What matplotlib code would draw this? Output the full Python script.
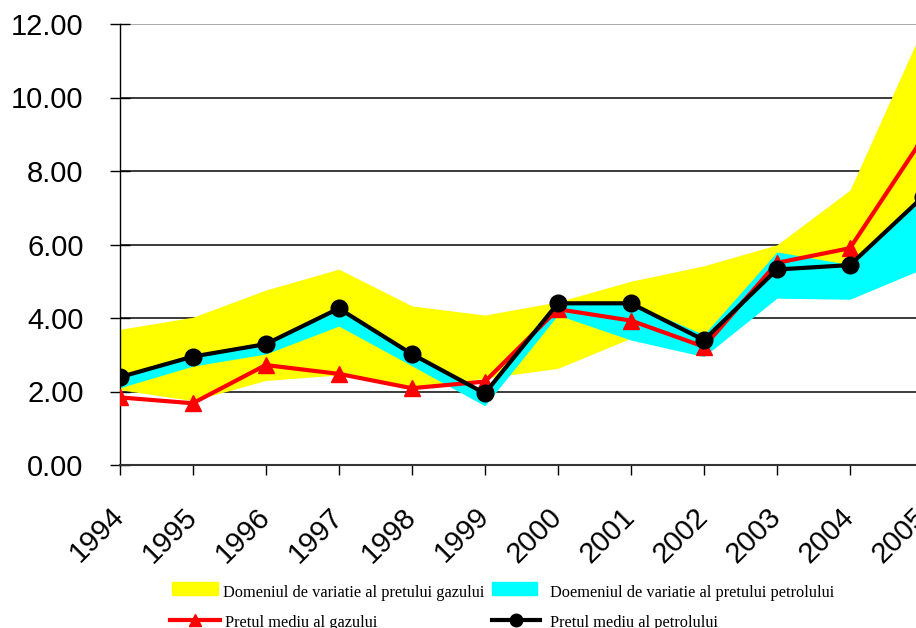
import matplotlib.pyplot as plt
from matplotlib.patches import Rectangle
from matplotlib.lines import Line2D
from matplotlib.transforms import ScaledTranslation

# years on the x axis
years = [1994, 1995, 1996, 1997, 1998, 1999, 2000, 2001, 2002, 2003, 2004, 2005]
year_labels = [str(y) for y in years]

# gas price range (yellow band)
gas_low = [2.05, 1.75, 2.30, 2.45, 2.10, 2.36, 2.63, 3.45, 3.00, 4.70, 5.00, 5.60]
gas_high = [3.69, 4.02, 4.76, 5.33, 4.33, 4.08, 4.44, 5.00, 5.42, 5.99, 7.48, 11.9]

# oil price range (cyan band)
oil_low = [2.10, 2.69, 3.02, 3.78, 2.70, 1.61, 4.08, 3.40, 2.95, 4.54, 4.51, 5.34]
oil_high = [2.39, 2.95, 3.29, 4.26, 3.02, 1.95, 4.40, 4.40, 3.55, 5.80, 5.45, 7.30]

# average prices
gas_avg = [1.84, 1.68, 2.72, 2.48, 2.09, 2.27, 4.24, 3.93, 3.22, 5.50, 5.90, 8.90]
oil_avg = [2.39, 2.95, 3.29, 4.26, 3.02, 1.95, 4.40, 4.40, 3.40, 5.32, 5.44, 7.30]

yticks = [0, 2, 4, 6, 8, 10, 12]

W, H = 916, 628
fig = plt.figure(figsize=(W / 100, H / 100), dpi=100)
# axes run a bit past the right edge, the reference is cropped there
ax = fig.add_axes([119.7 / W, 163 / H, 803.3 / W, 441 / H])

ax.fill_between(years, gas_low, gas_high, color='#ffff00', lw=0, zorder=1)
ax.fill_between(years, oil_low, oil_high, color='#00ffff', lw=0, zorder=2)
ax.plot(years, gas_avg, color='#ff0000', lw=3, marker='^', ms=12, zorder=3)
ax.plot(years, oil_avg, color='black', lw=3, marker='o', ms=12, zorder=4)

ax.set_xlim(1994, 2005)
ax.set_ylim(0, 12)
ax.set_xticks(years)
ax.set_xticklabels(year_labels, rotation=45, ha='right', va='center',
                   rotation_mode='anchor', fontsize=21, family='Liberation Sans')
shift = ScaledTranslation(-7 / 100, 0, fig.dpi_scale_trans)
for lab in ax.get_xticklabels():
    lab.set_transform(lab.get_transform() + shift)
ax.set_yticks(yticks)
ax.set_yticklabels([f"{v:.2f}" for v in yticks], fontsize=21, family='Liberation Sans')
ax.tick_params(axis='y', direction='inout', length=14, width=1, pad=19)
ax.tick_params(axis='x', direction='out', length=7, width=1, pad=27)

ax.set_axisbelow(True)
ax.grid(axis='y', color='#1a1a1a', lw=1.2)
ax.get_ygridlines()[-1].set_color('#9a9a9a')
for s in ['top', 'right']:
    ax.spines[s].set_visible(False)
ax.spines['left'].set_color('black')
ax.spines['left'].set_linewidth(1)
ax.spines['bottom'].set_color('#333333')
ax.spines['bottom'].set_linewidth(1.5)


# legend drawn by hand, in pixel positions of the reference
def fx(px):
    return px / W


def fy(py):
    return 1 - py / H


legend_font = {'family': 'Liberation Serif', 'size': 11.8}
fig.add_artist(Rectangle((fx(172), fy(595)), 46 / W, 13 / H, color='#ffff00',
                         transform=fig.transFigure))
fig.add_artist(Rectangle((fx(492), fy(595)), 45 / W, 13 / H, color='#00ffff',
                         transform=fig.transFigure))
fig.add_artist(Line2D([fx(170), fx(220)], [fy(620), fy(620)], color='#ff0000', lw=3,
                      marker='^', ms=9, markevery=[], transform=fig.transFigure))
fig.add_artist(Line2D([fx(195)], [fy(620)], color='#ff0000', marker='^', ms=9,
                      transform=fig.transFigure))
fig.add_artist(Line2D([fx(492), fx(540)], [fy(620), fy(620)], color='black', lw=3,
                      transform=fig.transFigure))
fig.add_artist(Line2D([fx(516)], [fy(620)], color='black', marker='o', ms=9,
                      transform=fig.transFigure))
fig.text(fx(223), fy(597), 'Domeniul de variatie al pretului gazului', va='baseline', **legend_font)
fig.text(fx(550), fy(597), 'Doemeniul de variatie al pretului petrolului', va='baseline', **legend_font)
fig.text(fx(225), fy(627), 'Pretul mediu al gazului', va='baseline', **legend_font)
fig.text(fx(550), fy(627), 'Pretul mediu al petrolului', va='baseline', **legend_font)

fig.savefig('out.png', dpi=100)
